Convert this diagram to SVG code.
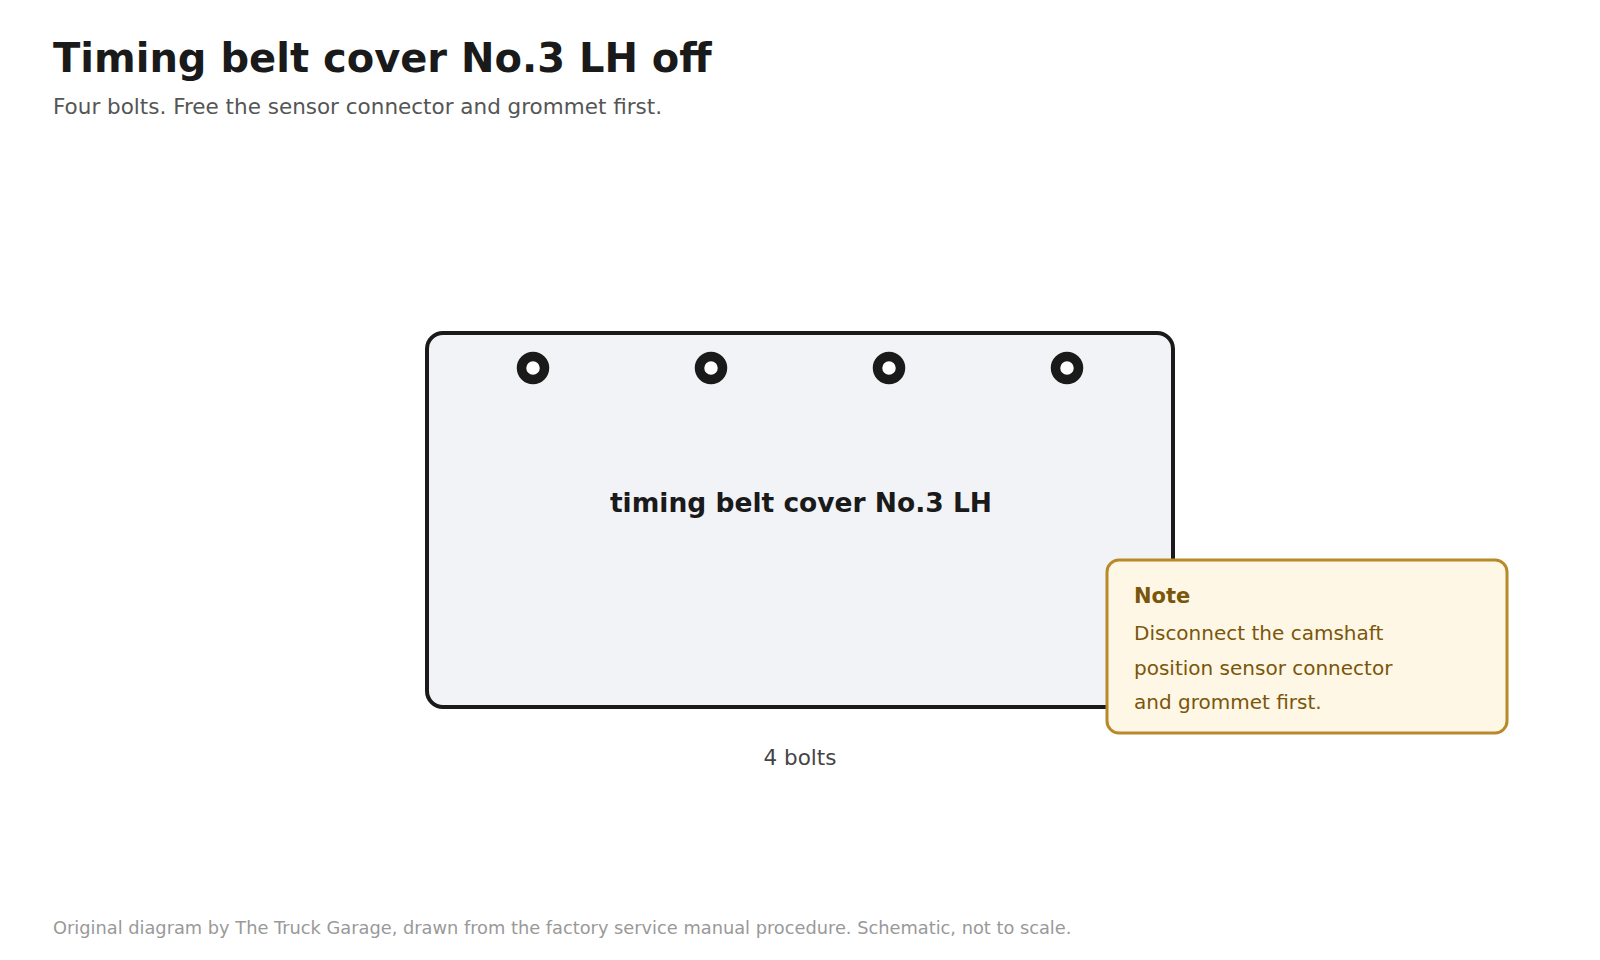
<svg xmlns="http://www.w3.org/2000/svg" width="1600" height="960" viewBox="0 0 1600 960">
<style>
text { font-family: "DejaVu Sans", "Noto Sans", sans-serif; }
.title { font-size: 40px; font-weight: bold; fill: #1a1a1a; }
.sub { font-size: 21.5px; fill: #555555; }
.part { fill: #f2f3f7; stroke: #1a1a1a; stroke-width: 4; }
.bolt { fill: #ffffff; stroke: #1a1a1a; stroke-width: 9.5; }
.plabel { font-size: 26.5px; font-weight: bold; fill: #1a1a1a; text-anchor: middle; }
.count { font-size: 21.5px; fill: #444444; text-anchor: middle; }
.note { fill: #fef7e6; stroke: #b8892a; stroke-width: 3; }
.nhead { font-size: 21px; font-weight: bold; fill: #7a560a; }
.nbody { font-size: 20px; fill: #7a560a; }
.foot { font-size: 17.8px; fill: #999999; }
</style>
<rect width="1600" height="960" fill="#ffffff"/>
<text class="title" x="53" y="72">Timing belt cover No.3 LH off</text>
<text class="sub" x="53" y="114">Four bolts. Free the sensor connector and grommet first.</text>
<g id="cover">
<rect class="part" x="427" y="333" width="746" height="374" rx="16"/>
<circle class="bolt" cx="533" cy="368" r="11.5"/>
<circle class="bolt" cx="711" cy="368" r="11.5"/>
<circle class="bolt" cx="889" cy="368" r="11.5"/>
<circle class="bolt" cx="1067" cy="368" r="11.5"/>
<text class="plabel" x="801" y="512">timing belt cover No.3 LH</text>
</g>
<g id="connectors"></g>
<g id="bolt-count">
<text class="count" x="800" y="765">4 bolts</text>
</g>
<g id="note">
<rect class="note" x="1107" y="560" width="400" height="173" rx="12"/>
<text class="nhead" x="1134" y="603">Note</text>
<text class="nbody" x="1134" y="640">Disconnect the camshaft</text>
<text class="nbody" x="1134" y="675">position sensor connector</text>
<text class="nbody" x="1134" y="709">and grommet first.</text>
</g>
<text class="foot" x="53" y="934">Original diagram by The Truck Garage, drawn from the factory service manual procedure. Schematic, not to scale.</text>
</svg>
